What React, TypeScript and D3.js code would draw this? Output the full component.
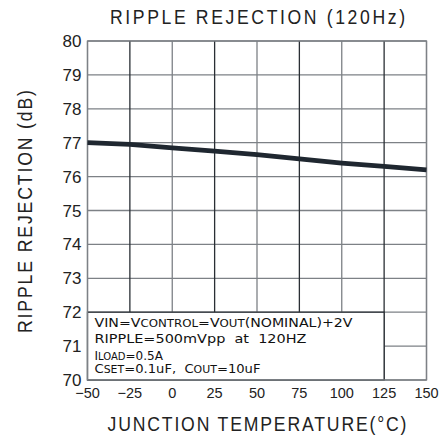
import React from "react";
import * as d3 from "d3";

const temps = [-50, -25, 0, 25, 50, 75, 100, 125, 150];
const rejection = [77.0, 76.95, 76.85, 76.75, 76.65, 76.52, 76.4, 76.3, 76.2];
const xTicks = [-50, -25, 0, 25, 50, 75, 100, 125, 150];
const yTicks = [70, 71, 72, 73, 74, 75, 76, 77, 78, 79, 80];

const W = 440, H = 438;
const M = { left: 87.5, right: 426.5, top: 41, bottom: 380 };
const FONT = "'Liberation Sans', Arial, sans-serif";
const NOTE_FONT = "'DejaVu Sans', 'Liberation Sans', sans-serif";
const SX = 0.84;

function Label(props: { cx: number; cy: number; rot?: number; len: number; text: string }) {
  const { cx, cy, rot = 0, len, text } = props;
  return (
    <g transform={`translate(${cx},${cy}) rotate(${rot}) scale(${SX},1)`}>
      <text x={0} y={0} textAnchor="middle" fontSize={21} textLength={len / SX} lengthAdjust="spacing" fill="#222">
        {text}
      </text>
    </g>
  );
}

export default function App() {
  const x = d3.scaleLinear().domain([-50, 150]).range([M.left, M.right]);
  const y = d3.scaleLinear().domain([70, 80]).range([M.bottom, M.top]);
  const line = d3
    .line<number>()
    .x((_, i) => x(temps[i]))
    .y((d) => y(d));
  const grid = "#7d8186";
  const dark = "#2a2f35";
  return (
    <svg
      width={W}
      height={H}
      style={{ position: "absolute", left: 0, top: 0, background: "#fff" }}
      fontFamily={FONT}
    >
      {yTicks.map((t) => (
        <line key={"h" + t} x1={M.left} x2={M.right} y1={y(t)} y2={y(t)} stroke={grid} strokeWidth={1.3} />
      ))}
      {xTicks.map((t, i) => (
        <line
          key={"v" + t}
          x1={x(t)}
          x2={x(t)}
          y1={M.top}
          y2={M.bottom}
          stroke={i % 2 === 1 ? dark : grid}
          strokeWidth={1.3}
        />
      ))}
      <rect
        x={x(-50)}
        y={y(72)}
        width={x(125) - x(-50)}
        height={y(70) - y(72)}
        fill="#fff"
        stroke={dark}
        strokeWidth={1.3}
      />
      <rect
        x={M.left}
        y={M.top}
        width={M.right - M.left}
        height={M.bottom - M.top}
        fill="none"
        stroke={grid}
        strokeWidth={1.3}
      />
      <path d={line(rejection) || ""} fill="none" stroke="#1f2730" strokeWidth={4.8} />
      {yTicks.map((t) => (
        <text key={"yl" + t} x={81.5} y={y(t) + 6} textAnchor="end" fontSize={17} fill="#222">
          {t}
        </text>
      ))}
      {xTicks.map((t) => (
        <text key={"xl" + t} x={x(t)} y={397.5} textAnchor="middle" fontSize={14.5} fill="#222">
          {t < 0 ? "\u2212" + Math.abs(t) : t}
        </text>
      ))}
      <g fontSize={12} fill="#111" fontFamily={NOTE_FONT}>
        <text x={94.5} y={326.8} textLength={258} lengthAdjust="spacingAndGlyphs">
          VIN=V<tspan fontSize={10}>CONTROL</tspan>=V<tspan fontSize={10}>OUT</tspan>(NOMINAL)+2V
        </text>
        <text x={94.5} y={342.8} textLength={212} lengthAdjust="spacingAndGlyphs" xmlSpace="preserve">
          RIPPLE=500mVpp  at  120HZ
        </text>
        <text x={94.5} y={360}>
          I<tspan fontSize={10}>LOAD</tspan>=0.5A
        </text>
        <text x={94.5} y={372.8} textLength={166} lengthAdjust="spacingAndGlyphs" xmlSpace="preserve">
          C<tspan fontSize={10}>SET</tspan>=0.1uF,  C<tspan fontSize={10}>OUT</tspan>=10uF
        </text>
      </g>
      <Label cx={257.5} cy={23.5} len={295} text="RIPPLE REJECTION (120Hz)" />
      <Label cx={257} cy={430.5} len={299} text="JUNCTION TEMPERATURE(°C)" />
      <Label cx={32} cy={211.5} rot={-90} len={243} text="RIPPLE REJECTION (dB)" />
    </svg>
  );
}
